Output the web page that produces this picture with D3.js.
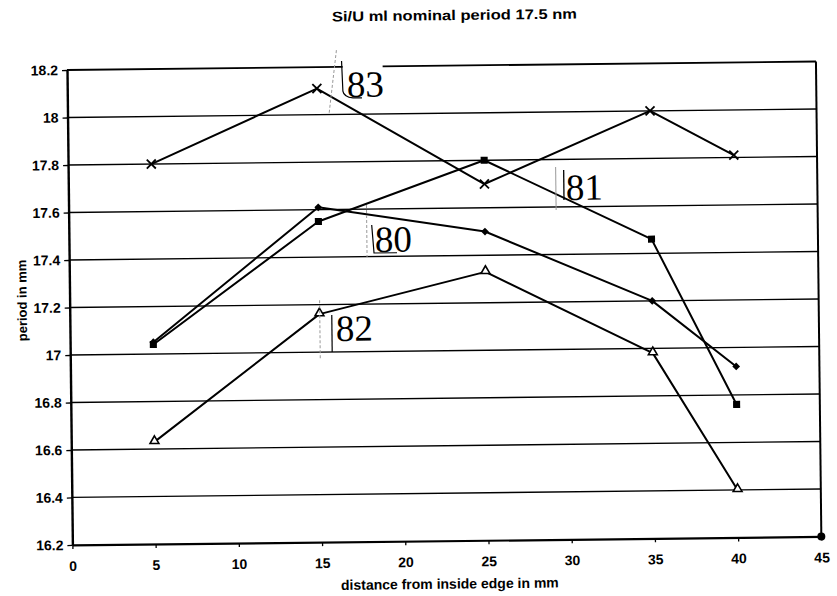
<!DOCTYPE html>
<html>
<head>
<meta charset="utf-8">
<script src="https://cdn.jsdelivr.net/npm/d3@7"></script>
<style>
  html, body { margin: 0; padding: 0; background: #fff; }
  svg { display: block; }
  .ax text { font-family: "Liberation Sans", Arial, sans-serif; font-weight: bold; font-size: 14px; fill: #000; }
</style>
</head>
<body>
<svg id="chart" width="837" height="596"></svg>
<script>
// ---- data ----
const xValues = [5, 15, 25, 35, 40];
const seriesNames = ["80", "81", "82", "83"];
const series80 = [17.05, 17.61, 17.50, 17.20, 16.92];
const series81 = [17.04, 17.55, 17.80, 17.46, 16.76];
const series82 = [16.63, 17.16, 17.33, 16.98, 16.40];
const series83 = [17.80, 18.11, 17.70, 18.00, 17.81];
const xTicks = [0, 5, 10, 15, 20, 25, 30, 35, 40, 45];
const yTicks = [16.2, 16.4, 16.6, 16.8, 17, 17.2, 17.4, 17.6, 17.8, 18, 18.2];
const yTickLabels = ["16.2", "16.4", "16.6", "16.8", "17", "17.2", "17.4", "17.6", "17.8", "18", "18.2"];
const labelX = [18.38, 29.89, 15.98, 16.80];
const labelY = [17.419, 17.629, 17.046, 18.073];
const strayDot = [[45, 16.2]];
const titleText = "Si/U ml nominal period 17.5 nm";
const xTitle = "distance from inside edge in mm";
const yTitle = "period in mm";

// ---- chart ----
const svg = d3.select("#chart");
const g = svg.append("g").attr("transform", "rotate(-0.65,67,70)");
const x = d3.scaleLinear().domain([0, 45]).range([67, 816]);
const y = d3.scaleLinear().domain([16.2, 18.2]).range([545, 70]);

// gridlines
g.append("g").selectAll("line").data(yTicks.slice(1, -1)).join("line")
  .attr("x1", x(0)).attr("x2", x(45))
  .attr("y1", d => y(d)).attr("y2", d => y(d))
  .attr("stroke", "#000").attr("stroke-width", 1.3);

// border top and right
g.append("line").attr("x1", x(0)).attr("x2", x(45)).attr("y1", y(18.2)).attr("y2", y(18.2))
  .attr("stroke", "#000").attr("stroke-width", 1.8);
g.append("line").attr("x1", x(45)).attr("x2", x(45)).attr("y1", y(18.2)).attr("y2", y(16.2))
  .attr("stroke", "#000").attr("stroke-width", 2);

// axes
const yAxis = d3.axisLeft(y).tickValues(yTicks).tickSize(5).tickSizeOuter(0).tickPadding(4)
  .tickFormat((d, i) => yTickLabels[i]);
const ya = g.append("g").attr("class", "ax").attr("transform", `translate(${x(0)},0)`).call(yAxis);
ya.select(".domain").attr("stroke", "#000").attr("stroke-width", 2.4);
ya.selectAll(".tick line").attr("stroke", "#000").attr("stroke-width", 1.3);

const xAxis = d3.axisBottom(x).tickValues(xTicks).tickSize(4).tickSizeOuter(0).tickPadding(12)
  .tickFormat(d3.format("d"));
const xa = g.append("g").attr("class", "ax").attr("transform", `translate(0,${y(16.2)})`).call(xAxis);
xa.select(".domain").attr("stroke", "#000").attr("stroke-width", 2.2);
xa.selectAll(".tick line").attr("stroke", "#000").attr("stroke-width", 1.3);

// series
const allSeries = [series80, series81, series82, series83];
const line = d3.line().x((d, i) => x(xValues[i])).y(d => y(d));
allSeries.forEach(s => {
  g.append("path").datum(s).attr("d", line)
    .attr("fill", "none").attr("stroke", "#000").attr("stroke-width", 2)
    .attr("stroke-linejoin", "round");
});

// markers
const mk = g.append("g");
// 80 diamond (filled)
mk.selectAll(".m80").data(series80).join("path")
  .attr("transform", (d, i) => `translate(${x(xValues[i])},${y(d)}) rotate(45)`)
  .attr("d", d3.symbol(d3.symbolSquare, 30)).attr("fill", "#000");
// 81 filled square
mk.selectAll(".m81").data(series81).join("path")
  .attr("transform", (d, i) => `translate(${x(xValues[i])},${y(d)})`)
  .attr("d", d3.symbol(d3.symbolSquare, 50)).attr("fill", "#000");
// 82 open triangle
mk.selectAll(".m82").data(series82).join("path")
  .attr("transform", (d, i) => `translate(${x(xValues[i])},${y(d) - 1})`)
  .attr("d", d3.symbol(d3.symbolTriangle, 34)).attr("fill", "#fff")
  .attr("stroke", "#000").attr("stroke-width", 1.6);
// 83 cross
mk.selectAll(".m83").data(series83).join("g")
  .attr("transform", (d, i) => `translate(${x(xValues[i])},${y(d)})`)
  .each(function() {
    const s = d3.select(this);
    s.append("line").attr("x1", -4.5).attr("y1", -4.5).attr("x2", 4.5).attr("y2", 4.5)
      .attr("stroke", "#000").attr("stroke-width", 1.8);
    s.append("line").attr("x1", -4.5).attr("y1", 4.5).attr("x2", 4.5).attr("y2", -4.5)
      .attr("stroke", "#000").attr("stroke-width", 1.8);
  });

// stray dot at corner
g.selectAll(".stray").data(strayDot).join("circle")
  .attr("cx", d => x(d[0])).attr("cy", d => y(d[1])).attr("r", 4).attr("fill", "#000");

// pasted labels with brackets
const lab = g.append("g");
seriesNames.forEach((name, i) => {
  const lx = x(labelX[i]), ly = y(labelY[i]);
  const lg = lab.append("g").attr("transform", `translate(${lx},${ly})`);
  if (name === "83") {
    lg.append("rect").attr("x", -4).attr("y", -40).attr("width", 40).attr("height", 36).attr("fill", "#fff");
    lg.append("line").attr("x1", -10).attr("y1", -47).attr("x2", -18).attr("y2", 16)
      .attr("stroke", "#999").attr("stroke-width", 1).attr("stroke-dasharray", "3,2");
    lg.append("path").attr("d", "M-5,-36 L-4,-6 Q-3,0 6,1 L15,1")
      .attr("fill", "none").attr("stroke", "#000").attr("stroke-width", 1.2);
  } else if (name === "81") {
    lg.append("line").attr("x1", -10).attr("y1", -33).attr("x2", -10).attr("y2", 10)
      .attr("stroke", "#999").attr("stroke-width", 1);
    lg.append("line").attr("x1", -2).attr("y1", -30).attr("x2", -2).attr("y2", 0)
      .attr("stroke", "#000").attr("stroke-width", 1.3);
  } else if (name === "80") {
    lg.append("line").attr("x1", -8).attr("y1", -47).attr("x2", -8).attr("y2", 5)
      .attr("stroke", "#999").attr("stroke-width", 1).attr("stroke-dasharray", "3,2");
    lg.append("path").attr("d", "M-3,-27 L-1,1 L22,1")
      .attr("fill", "none").attr("stroke", "#000").attr("stroke-width", 1.2);
  } else if (name === "82") {
    lg.append("line").attr("x1", -16).attr("y1", -41).attr("x2", -16).attr("y2", 17)
      .attr("stroke", "#999").attr("stroke-width", 1).attr("stroke-dasharray", "3,2");
    lg.append("line").attr("x1", -4).attr("y1", -26).attr("x2", -4).attr("y2", 11)
      .attr("stroke", "#000").attr("stroke-width", 1.2);
  }
  lg.append("text").attr("x", 0).attr("y", 0)
    .attr("font-family", "'Liberation Serif', 'Times New Roman', serif")
    .attr("font-size", 37).attr("fill", "#000").text(name);
});

// titles
g.append("text").attr("x", 455).attr("y", 24.4).attr("text-anchor", "middle")
  .attr("font-family", "'Liberation Sans', Arial, sans-serif").attr("font-weight", "bold")
  .attr("font-size", 14).attr("textLength", 245).attr("lengthAdjust", "spacingAndGlyphs")
  .text(titleText);
g.append("text").attr("x", 444).attr("y", 593).attr("text-anchor", "middle")
  .attr("font-family", "'Liberation Sans', Arial, sans-serif").attr("font-weight", "bold")
  .attr("font-size", 14).text(xTitle);
g.append("text").attr("transform", "translate(24,300) rotate(-90)").attr("text-anchor", "middle")
  .attr("font-family", "'Liberation Sans', Arial, sans-serif").attr("font-weight", "bold")
  .attr("font-size", 13).text(yTitle);
</script>
</body>
</html>
